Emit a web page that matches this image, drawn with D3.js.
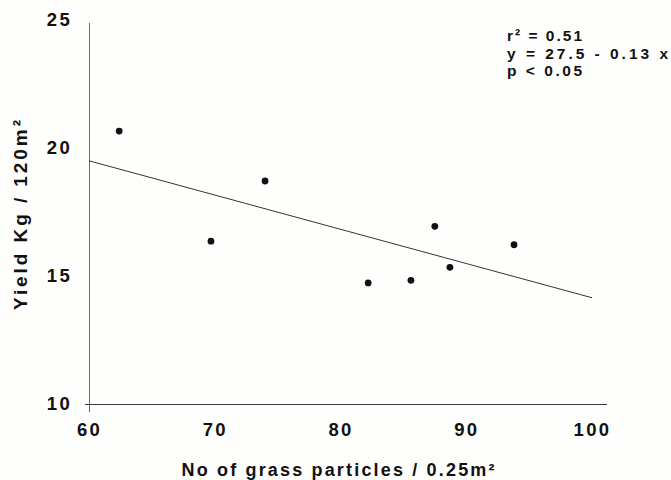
<!DOCTYPE html>
<html>
<head>
<meta charset="utf-8">
<script src="https://cdn.jsdelivr.net/npm/d3@7"></script>
<style>
  html, body { margin: 0; padding: 0; background: #fefefc; }
  svg { display: block; }
  text { font-family: "Liberation Sans", Arial, Helvetica, sans-serif; font-weight: bold; fill: #111; }
</style>
</head>
<body>
<svg id="chart" width="671" height="480"></svg>
<script>
// ---- data ----
const particles = [62.4, 69.7, 74.0, 82.2, 85.6, 87.5, 88.7, 93.8];
const yieldKg   = [20.66, 16.36, 18.71, 14.73, 14.83, 16.94, 15.34, 16.22];
const fitX = [60, 100];
const fitY = [19.5, 14.15];
const xTicks = [60, 70, 80, 90, 100];
const yTicks = [10, 15, 20, 25];
const xTitle = "No of grass particles / 0.25m\u00B2";
const yTitle = "Yield Kg / 120m\u00B2";
const statLines = ["r\u00B2 = 0.51", "y = 27.5 - 0.13 x", "p < 0.05"];

// ---- layout ----
const svg = d3.select("#chart");
const x = d3.scaleLinear().domain([60, 100]).range([89, 592]);
const y = d3.scaleLinear().domain([10, 25]).range([404, 20]);

svg.append("rect").attr("width", 671).attr("height", 480).attr("fill", "#fefefc");

// axis lines (cross slightly at origin)
svg.append("line")
  .attr("x1", x(60) + 0.5).attr("x2", x(60) + 0.5)
  .attr("y1", y(25) + 3).attr("y2", y(10) + 8)
  .attr("stroke", "#6a6a6a").attr("stroke-width", 1);
svg.append("line")
  .attr("x1", x(60) - 4).attr("x2", x(100) + 15)
  .attr("y1", y(10) + 0.5).attr("y2", y(10) + 0.5)
  .attr("stroke", "#3a3a3a").attr("stroke-width", 1.2);

// x axis labels
const gx = svg.append("g").attr("transform", `translate(0,${y(10)})`)
  .call(d3.axisBottom(x).tickValues(xTicks).tickSize(0).tickPadding(19).tickFormat(d3.format("d")));
gx.select(".domain").remove();
gx.selectAll("text")
  .attr("font-size", 18.5).attr("font-family", null).style("letter-spacing", "2.3px")
  .attr("fill", "#111");

// y axis labels
const gy = svg.append("g").attr("transform", `translate(${x(60)},0)`)
  .call(d3.axisLeft(y).tickValues(yTicks).tickSize(0).tickPadding(17).tickFormat(d3.format("d")));
gy.select(".domain").remove();
gy.selectAll("text")
  .attr("font-size", 18.5).attr("font-family", null).style("letter-spacing", "2.3px")
  .attr("fill", "#111");

// regression line
svg.append("path")
  .datum(fitX.map((v, i) => [v, fitY[i]]))
  .attr("d", d3.line().x(d => x(d[0])).y(d => y(d[1])))
  .attr("fill", "none").attr("stroke", "#333").attr("stroke-width", 1);

// points
svg.append("g").selectAll("circle")
  .data(particles.map((v, i) => [v, yieldKg[i]]))
  .join("circle")
  .attr("cx", d => x(d[0])).attr("cy", d => y(d[1]))
  .attr("r", 3.4).attr("fill", "#111");

// axis titles
svg.append("text")
  .attr("x", 338).attr("y", 476)
  .attr("text-anchor", "middle")
  .attr("font-size", 18)
  .attr("textLength", 313).attr("lengthAdjust", "spacing")
  .text(xTitle);

svg.append("text")
  .attr("transform", "translate(27,215) rotate(-90)")
  .attr("text-anchor", "middle")
  .attr("font-size", 19)
  .attr("textLength", 190).attr("lengthAdjust", "spacing")
  .text(yTitle);

// statistics annotation
const statLen = [75, 161, 75];
const statBase = [41, 58.5, 76];
svg.append("g").selectAll("text")
  .data(statLines)
  .join("text")
  .attr("x", 507).attr("y", (d, i) => statBase[i])
  .attr("font-size", 15.5)
  .attr("textLength", (d, i) => statLen[i]).attr("lengthAdjust", "spacing")
  .text(d => d);
</script>
</body>
</html>
